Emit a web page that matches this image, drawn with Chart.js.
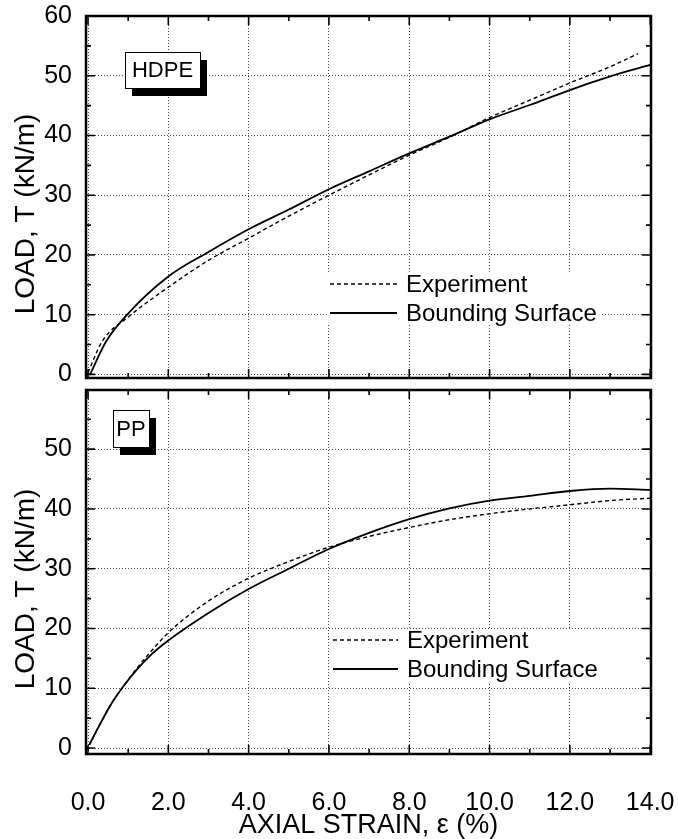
<!DOCTYPE html>
<html>
<head>
<meta charset="utf-8">
<script src="https://cdn.jsdelivr.net/npm/chart.js@4.4.0/dist/chart.umd.min.js"></script>
<style>
  html, body { margin: 0; padding: 0; background: #fff; }
  #wrap { position: relative; width: 678px; height: 839px; }
  canvas { position: absolute; left: 0; }
</style>
</head>
<body>
<div id="wrap">
  <canvas id="hdpe" width="678" height="390" style="top:0px"></canvas>
  <canvas id="pp" width="678" height="459" style="top:380px"></canvas>
</div>
<script>
// HDPE panel (top)
const hdpeExpStrain = [0, 0.35, 1, 2, 3, 4, 5, 6, 7, 8, 9, 10, 11, 12, 13, 13.7];
const hdpeExpLoad   = [0.3, 5.5, 9.6, 14.6, 19.1, 22.8, 26.5, 30.0, 33.4, 36.7, 39.7, 43.0, 45.9, 48.8, 51.5, 53.7];
const hdpeBsStrain  = [0.05, 0.45, 1, 2, 3, 4, 5, 6, 7, 8, 9, 10, 11, 12, 13, 14];
const hdpeBsLoad    = [0, 5.5, 10.2, 16.4, 20.5, 24.3, 27.6, 31.0, 34.0, 37.0, 39.8, 42.7, 45.1, 47.6, 49.9, 51.8];

// PP panel (bottom)
const ppExpStrain = [0.03, 0.3, 0.6, 0.9, 1.2, 1.6, 2, 3, 4, 5, 6, 7, 8, 9, 10, 11, 12, 13, 14];
const ppExpLoad   = [0.5, 4.0, 7.6, 10.5, 13.2, 16.4, 19.3, 24.6, 28.4, 31.2, 33.6, 35.4, 36.9, 38.2, 39.2, 40.0, 40.7, 41.4, 41.8];
const ppBsStrain  = [0.03, 0.3, 0.6, 0.9, 1.2, 1.6, 2, 3, 4, 5, 6, 7, 8, 9, 10, 11, 12, 13, 14];
const ppBsLoad    = [0.5, 4.0, 7.6, 10.5, 13.0, 15.8, 18.0, 22.6, 26.6, 30.0, 33.3, 36.0, 38.3, 40.1, 41.4, 42.2, 43.0, 43.4, 43.2];

const seriesLabels = ['Experiment', 'Bounding Surface'];
const xTitle = 'AXIAL STRAIN, \u03b5 (%)';
const yTitle = 'LOAD, T (kN/m)';
const xMinorStep = 1;
const yMinorStep = 5;

const FONT = "'Liberation Sans', Arial, Helvetica, sans-serif";

const toXY = (xs, ys) => xs.map((x, i) => ({ x: x, y: ys[i] }));

// frame, inward ticks, legend, y title and material label
const framePlugin = {
  id: 'frame',
  afterDatasetsDraw(chart, args, o) {
    const { ctx, chartArea: a, scales: { x, y } } = chart;
    ctx.save();

    // legend
    const lg = o.legend;
    ctx.fillStyle = '#fff';
    ctx.fillRect(lg.box[0], lg.box[1], lg.box[2] - lg.box[0], lg.box[3] - lg.box[1]);
    chart.data.datasets.forEach((ds, i) => {
      ctx.strokeStyle = '#000';
      ctx.lineWidth = ds.borderWidth;
      ctx.setLineDash(ds.borderDash || []);
      ctx.beginPath();
      ctx.moveTo(lg.x0, lg.rows[i]);
      ctx.lineTo(lg.x1, lg.rows[i]);
      ctx.stroke();
      ctx.setLineDash([]);
      ctx.fillStyle = '#000';
      ctx.font = '24px ' + FONT;
      ctx.textBaseline = 'middle';
      ctx.textAlign = 'left';
      ctx.fillText(ds.label, lg.tx, lg.rows[i] + 1);
    });

    // material label with drop shadow
    const b = o.tag;
    ctx.fillStyle = '#000';
    ctx.fillRect(b.x + 7, b.y + 8, b.w, b.h);
    ctx.fillStyle = '#fff';
    ctx.fillRect(b.x, b.y, b.w, b.h);
    ctx.lineWidth = 1;
    ctx.strokeStyle = '#000';
    ctx.strokeRect(b.x + 0.5, b.y + 0.5, b.w, b.h);
    ctx.fillStyle = '#000';
    ctx.font = '22px ' + FONT;
    ctx.textAlign = 'center';
    ctx.textBaseline = 'middle';
    ctx.fillText(b.text, b.x + b.w / 2, b.y + b.h / 2 + 1);

    // y axis title, sits a little below the panel centre
    ctx.save();
    ctx.translate(26, (a.top + a.bottom) / 2 + 17);
    ctx.rotate(-Math.PI / 2);
    ctx.font = '28px ' + FONT;
    ctx.fillText(yTitle, 0, 0);
    ctx.restore();

    // inward ticks on all four sides
    ctx.strokeStyle = '#000';
    ctx.lineWidth = 1.6;
    ctx.beginPath();
    for (let v = 0; v <= 14 + 1e-9; v += xMinorStep) {
      const px = x.getPixelForValue(v);
      const len = v % 2 === 0 ? 9 : 5;
      ctx.moveTo(px, a.bottom); ctx.lineTo(px, a.bottom - len);
      ctx.moveTo(px, a.top); ctx.lineTo(px, a.top + len);
    }
    for (let v = 0; v <= y.max + 1e-9; v += yMinorStep) {
      const py = y.getPixelForValue(v);
      const len = v % 10 === 0 ? 9 : 5;
      ctx.moveTo(a.left, py); ctx.lineTo(a.left + len, py);
      ctx.moveTo(a.right, py); ctx.lineTo(a.right - len, py);
    }
    ctx.stroke();

    // frame
    ctx.lineWidth = 2.5;
    ctx.strokeRect(a.left, a.top, a.right - a.left, a.bottom - a.top);
    ctx.restore();
  }
};

function makePanel(id, p) {
  return new Chart(document.getElementById(id), {
    type: 'line',
    data: {
      datasets: [
        { label: seriesLabels[0], data: toXY(p.expStrain, p.expLoad), borderColor: '#000',
          borderWidth: 1.4, borderDash: [4, 3], pointRadius: 0, fill: false,
          cubicInterpolationMode: 'monotone' },
        { label: seriesLabels[1], data: toXY(p.bsStrain, p.bsLoad), borderColor: '#000',
          borderWidth: 1.8, pointRadius: 0, fill: false,
          cubicInterpolationMode: 'monotone' }
      ]
    },
    options: {
      responsive: false,
      animation: false,
      layout: { padding: { top: p.padTop, right: 27, left: 0, bottom: 0 } },
      plugins: {
        legend: { display: false },
        tooltip: { enabled: false },
        frame: { legend: p.legend, tag: p.tag }
      },
      scales: {
        x: {
          type: 'linear', min: -0.05, max: 14.02,
          grid: { color: '#444', lineWidth: 1, drawTicks: false },
          border: { display: false, dash: [1, 2] },
          ticks: {
            display: p.showX, stepSize: 2, includeBounds: false, autoSkip: false, maxRotation: 0,
            padding: 34, color: '#000', font: { family: FONT, size: 25 },
            callback: v => Number(v).toFixed(1)
          },
          title: {
            display: p.showX, text: xTitle, color: '#000',
            font: { family: FONT, size: 27, lineHeight: 1 }, padding: { top: 0, bottom: 0 }
          },
          afterFit: s => { s.height = p.xHeight; s.paddingLeft = 0; s.paddingRight = 0; }
        },
        y: {
          type: 'linear', min: p.yMin, max: p.yMax,
          grid: { color: '#444', lineWidth: 1, drawTicks: false },
          border: { display: false, dash: [1, 2] },
          ticks: {
            stepSize: 10, includeBounds: false, padding: 14, color: '#000',
            font: { family: FONT, size: 25 },
            callback: v => String(Math.round(v))
          },
          title: { display: false },
          afterFit: s => { s.width = 86; s.paddingTop = 0; s.paddingBottom = 0; }
        }
      }
    },
    plugins: [framePlugin]
  });
}

makePanel('hdpe', {
  expStrain: hdpeExpStrain, expLoad: hdpeExpLoad,
  bsStrain: hdpeBsStrain, bsLoad: hdpeBsLoad,
  padTop: 16, xHeight: 12, showX: false, yMin: -0.6, yMax: 60,
  legend: { box: [328, 272, 602, 323], x0: 330, x1: 397, tx: 406, rows: [284, 313] },
  tag: { x: 125, y: 52, w: 75, h: 36, text: 'HDPE' }
});

makePanel('pp', {
  expStrain: ppExpStrain, expLoad: ppExpLoad,
  bsStrain: ppBsStrain, bsLoad: ppBsLoad,
  padTop: 10, xHeight: 85, showX: true, yMin: -1, yMax: 59.9,
  legend: { box: [331, 249, 605, 302], x0: 333, x1: 398, tx: 407, rows: [260, 289] },
  tag: { x: 113, y: 30, w: 36, h: 37, text: 'PP' }
});
</script>
</body>
</html>
